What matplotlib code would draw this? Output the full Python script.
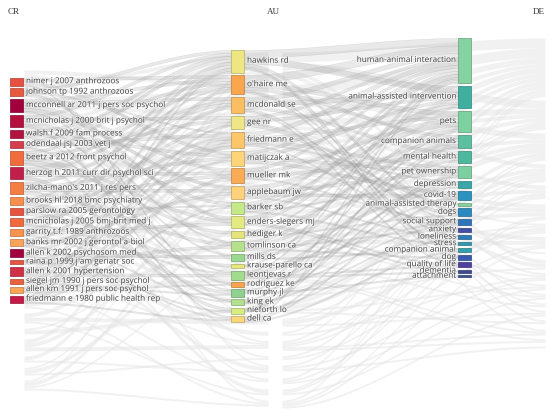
import numpy as np
import matplotlib
matplotlib.use("Agg")
import matplotlib.pyplot as plt
import matplotlib.patheffects as pe

# ---- data -------------------------------------------------------------
cr_labels = ['nimer j 2007 anthrozoos', 'johnson tp 1992 anthrozoos',
             'mcconnell ar 2011 j pers soc psychol', 'mcnicholas j 2000 brit j psychol',
             'walsh f 2009 fam process', 'odendaal jsj 2003 vet j',
             'beetz a 2012 front psychol', 'herzog h 2011 curr dir psychol sci',
             "zilcha-mano's 2011 j res pers", 'brooks hl 2018 bmc psychiatry',
             'parslow ra 2005 gerontology', 'mcnicholas j 2005 bmj-brit med j',
             'garrity t.f. 1989 anthrozoos', 'banks mr 2002 j gerontol a-biol',
             'allen k 2002 psychosom med', 'raina p 1999 j am geriatr soc',
             'allen k 2001 hypertension', 'siegel jm 1990 j pers soc psychol',
             'allen km 1991 j pers soc psychol', 'friedmann e 1980 public health rep']
cr_values = [5, 5, 9, 8, 5, 5, 9, 8, 8, 5, 5, 5, 5, 5, 5, 3, 6, 3, 4, 5]
cr_colors = ['#e8503f', '#e85a40', '#a2003c', '#b3103f', '#b3143f', '#d43d4d',
             '#f26b3c', '#c2204a', '#f47d43', '#f88e4d', '#e8533f', '#f06a3e',
             '#f8924f', '#f9a35a', '#a3003e', '#e55542', '#d02f48', '#ea6140',
             '#f9a556', '#c21a45']

au_labels = ['hawkins rd', "o'haire me", 'mcdonald se', 'gee nr', 'friedmann e',
             'matijczak a', 'mueller mk', 'applebaum jw', 'barker sb',
             'enders-slegers mj', 'hediger k', 'tomlinson ca', 'mills ds',
             'krause-parello ca', 'leontjevas r', 'rodriguez ke', 'murphy jl',
             'king ek', 'nieforth lo', 'dell ca']
au_values = [15, 13, 11, 9, 11, 10, 10, 9, 8, 8, 5, 7, 5, 3, 6, 3, 5, 4, 4, 4]
au_colors = ['#eee683', '#f9a64e', '#fbbe62', '#efe687', '#fcc66a', '#fdd478',
             '#f9ac55', '#fdd27a', '#c5e888', '#e4ea82', '#e4e47a', '#b6e08d',
             '#9ad88f', '#e6e87c', '#a2da8e', '#f8a450', '#8fd28f', '#b2e08e',
             '#d8ec84', '#f9d77a']

de_labels = ['human-animal interaction', 'animal-assisted intervention', 'pets',
             'companion animals', 'mental health', 'pet ownership', 'depression',
             'covid-19', 'animal-assisted therapy', 'dogs', 'social support',
             'anxiety', 'loneliness', 'stress', 'companion animal', 'dog',
             'quality of life', 'dementia', 'attachment']
de_values = [30, 15, 14, 9, 8, 8, 5, 6, 2, 5, 4, 3, 3, 2, 3, 3, 3, 2, 1]
de_colors = ['#86d2a0', '#3fb0a0', '#7dd0a0', '#5cc0a0', '#4cb89c', '#7ccfa0',
             '#3aa8a8', '#2a93c0', '#86d2a0', '#2a8ac0', '#2f74b8', '#4150a6',
             '#2f7cb8', '#3298b2', '#34a0ae', '#3a5ab0', '#4c40a0', '#3c4890',
             '#3c4e92']

# links (source, target, value)
cr_au_links = [
    (0, 1, 2), (0, 5, 2), (0, 16, 1),
    (1, 0, 2), (1, 4, 1), (1, 9, 2),
    (2, 1, 2), (2, 2, 2), (2, 6, 2), (2, 7, 2), (2, 11, 1),
    (3, 0, 2), (3, 3, 2), (3, 8, 2), (3, 12, 1), (3, 19, 1),
    (4, 1, 2), (4, 5, 2), (4, 15, 1),
    (5, 0, 2), (5, 4, 2), (5, 14, 1),
    (6, 0, 2), (6, 3, 2), (6, 9, 2), (6, 10, 2), (6, 17, 1),
    (7, 1, 2), (7, 2, 2), (7, 6, 2), (7, 18, 2),
    (8, 2, 2), (8, 5, 2), (8, 7, 2), (8, 11, 2),
    (9, 1, 1), (9, 6, 2), (9, 16, 2),
    (10, 0, 2), (10, 8, 1), (10, 13, 2),
    (11, 3, 2), (11, 4, 2), (11, 14, 1),
    (12, 0, 2), (12, 9, 2), (12, 17, 1),
    (13, 2, 2), (13, 7, 2), (13, 19, 1),
    (14, 4, 2), (14, 12, 2), (14, 18, 1),
    (15, 5, 1), (15, 11, 2),
    (16, 0, 2), (16, 4, 2), (16, 14, 2),
    (17, 1, 2), (17, 16, 1),
    (18, 3, 1), (18, 6, 2), (18, 15, 1),
    (19, 0, 1), (19, 4, 2), (19, 8, 1), (19, 19, 1),
]
au_de_links = [
    (0, 0, 5), (0, 1, 4), (0, 9, 2), (0, 14, 1), (0, 15, 1),
    (1, 0, 5), (1, 2, 3), (1, 3, 2), (1, 10, 1), (1, 12, 1),
    (2, 0, 3), (2, 1, 3), (2, 4, 2), (2, 13, 1), (2, 16, 1),
    (3, 0, 2), (3, 1, 2), (3, 8, 1), (3, 9, 2),
    (4, 0, 3), (4, 2, 2), (4, 5, 2), (4, 6, 1), (4, 11, 1),
    (5, 0, 2), (5, 1, 2), (5, 5, 2), (5, 7, 2),
    (6, 0, 2), (6, 2, 2), (6, 4, 2), (6, 10, 1),
    (7, 2, 3), (7, 5, 2), (7, 7, 2), (7, 12, 1),
    (8, 0, 2), (8, 1, 1), (8, 3, 2), (8, 6, 1), (8, 13, 1),
    (9, 0, 2), (9, 1, 2), (9, 16, 1), (9, 17, 1),
    (10, 1, 1), (10, 3, 2), (10, 9, 1),
    (11, 2, 2), (11, 4, 2), (11, 11, 1), (11, 15, 1),
    (12, 3, 1), (12, 6, 2), (12, 14, 1),
    (13, 0, 1), (13, 10, 1),
    (14, 0, 1), (14, 4, 1), (14, 6, 1), (14, 16, 1), (14, 17, 1),
    (15, 2, 1), (15, 7, 1),
    (16, 3, 1), (16, 10, 1), (16, 18, 1),
    (17, 0, 1), (17, 5, 1), (17, 11, 1),
    (18, 2, 1), (18, 3, 1), (18, 12, 1),
    (19, 0, 1), (19, 5, 1), (19, 7, 1), (19, 14, 1),
]

# ---- layout -----------------------------------------------------------
W, H = 550, 416
NODE_W = 13
SCALE = 1.5          # px per unit
GHOST_SCALE = 1.95


def stack(values, top, bottom, scale):
    v = np.asarray(values, float) * scale
    pad = (bottom - top - v.sum()) / (len(v) - 1)
    tops = top + np.concatenate([[0], np.cumsum(v[:-1] + pad)])
    return tops, v


def band(ax, xa, ya0, ya1, xb, yb0, yb1, **kw):
    t = np.linspace(0, 1, 40)
    s = 3 * t ** 2 - 2 * t ** 3
    x = xa + (xb - xa) * t
    top = ya0 + (yb0 - ya0) * s
    bot = ya1 + (yb1 - ya1) * s
    ax.fill_between(x, top, bot, **kw)


def draw_links(ax, links, s_tops, s_h, t_tops, t_h, xa, xb, scale, **kw):
    s_mid = s_tops + s_h / 2
    t_mid = t_tops + t_h / 2
    s_off = {}
    t_off = {}
    out_order = sorted(links, key=lambda l: (l[0], t_mid[l[1]]))
    for l in out_order:
        s_off.setdefault(l[0], s_tops[l[0]])
        s_off[l] = s_off[l[0]]
        s_off[l[0]] += l[2] * scale
    in_order = sorted(links, key=lambda l: (l[1], s_mid[l[0]]))
    for l in in_order:
        t_off.setdefault(('t', l[1]), t_tops[l[1]])
        t_off[l] = t_off[('t', l[1])]
        t_off[('t', l[1])] += l[2] * scale
    for l in links:
        w = l[2] * scale
        band(ax, xa, s_off[l], s_off[l] + w, xb, t_off[l], t_off[l] + w, **kw)


def darker(c, f=0.75):
    r, g, b = matplotlib.colors.to_rgb(c)
    return (r * f, g * f, b * f)


fig = plt.figure(figsize=(W / 100, H / 100), dpi=100)
ax = fig.add_axes([0, 0, 1, 1])
ax.set_xlim(0, W)
ax.set_ylim(H, 0)
ax.axis('off')

# faded background copy of the flows
g_cr, g_crh = stack(cr_values, 70, 390, GHOST_SCALE)
g_au, g_auh = stack(au_values, 52, 408, GHOST_SCALE)
g_de, g_deh = stack(de_values, 38, 348, GHOST_SCALE)
ghost = dict(color='#e4e4e4', alpha=0.5, lw=0)
draw_links(ax, cr_au_links, g_cr, g_crh, g_au, g_auh, 24, 268, GHOST_SCALE, **ghost)
draw_links(ax, au_de_links, g_au, g_auh, g_de, g_deh, 282, 545, GHOST_SCALE, **ghost)

# real flows
cr_x, au_x, de_x = 10, 231, 458
cr_t, cr_h = stack(cr_values, 78, 303, SCALE)
au_t, au_h = stack(au_values, 50, 322, SCALE)
de_t, de_h = stack(de_values, 38, 277, SCALE)
real = dict(facecolor='#a8a8a8', alpha=0.25, edgecolor='#8a8a8a', lw=0.3)
draw_links(ax, cr_au_links, cr_t, cr_h, au_t, au_h, cr_x + NODE_W, au_x, SCALE, **real)
draw_links(ax, au_de_links, au_t, au_h, de_t, de_h, au_x + NODE_W, de_x, SCALE, **real)

halo = [pe.withStroke(linewidth=1.2, foreground='white', alpha=0.6)]
lab = dict(fontsize=5.9, color='#4a4a4a', family=['Open Sans', 'DejaVu Sans'],
           va='center', path_effects=halo)


def draw_nodes(x, tops, hs, colors, labels, side):
    for y, h, c, name in zip(tops, hs, colors, labels):
        ax.add_patch(plt.Rectangle((x, y), NODE_W, h, facecolor=c,
                                   edgecolor=darker(c), lw=0.5, zorder=3))
        if side == 'right':
            ax.text(x + NODE_W + 3, y + h / 2, name, ha='left', zorder=4, **lab)
        else:
            ax.text(x - 2, y + h / 2, name, ha='right', zorder=4, **lab)


draw_nodes(cr_x, cr_t, cr_h, cr_colors, cr_labels, 'right')
draw_nodes(au_x, au_t, au_h, au_colors, au_labels, 'right')
draw_nodes(de_x, de_t, de_h, de_colors, de_labels, 'left')

ttl = dict(fontsize=6.5, color='#333333', family='Liberation Serif', va='center')
ax.text(8, 12, 'CR', ha='left', **ttl)
ax.text(273, 12, 'AU', ha='center', **ttl)
ax.text(545, 12, 'DE', ha='right', **ttl)

fig.savefig('out.png', dpi=100)
